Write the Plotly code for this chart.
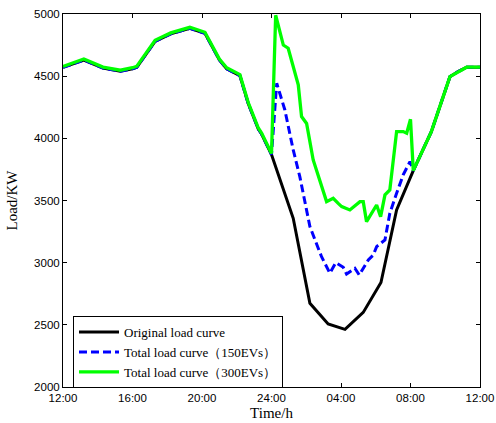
import plotly.graph_objects as go

# hours after 12:00
base_h = [0, 1.2, 2.3, 3.3, 4.0, 4.25, 5.3, 6.2, 7.3, 8.17, 9.0, 9.42, 10.18, 10.66, 11.24, 11.43, 12.0]
base_v = [4570, 4630, 4565, 4540, 4560, 4572, 4780, 4840, 4885, 4845, 4630, 4560, 4505, 4280, 4075, 4035, 3870]

orig_h = [13.25, 14.21, 15.26, 16.23, 17.28, 18.3, 19.2, 20.16, 21.2, 22.27, 22.74, 23.23, 24.0]
orig_v = [3357, 2673, 2507, 2464, 2600, 2840, 3424, 3740, 4054, 4496, 4537, 4572, 4572]

ev150_h = [12.3, 12.77, 13.25, 13.63, 14.02, 14.21, 14.88, 15.36, 15.7, 16.13, 16.32, 16.8, 17.05,
           17.57, 17.86, 18.05, 18.53, 18.81, 19.2, 19.58, 19.97, 20.16]
ev150_v = [4443, 4228, 3907, 3692, 3424, 3290, 3048, 2915, 3000, 2963, 2909, 2955, 2901,
           3022, 3062, 3129, 3183, 3397, 3558, 3706, 3813, 3740]

ev300_h = [12.24, 12.68, 12.96, 13.54, 13.73, 14.02, 14.4, 15.17, 15.55, 15.84, 16.04, 16.51, 17.09,
           17.28, 17.47, 18.05, 18.28, 18.53, 18.81, 19.2, 19.58, 19.78, 20.0, 20.16]
ev300_v = [4990, 4750, 4725, 4430, 4175, 4120, 3826, 3491, 3518, 3477, 3451, 3424, 3491,
           3491, 3330, 3464, 3370, 3545, 3585, 4054, 4054, 4041, 4153, 3740]

tick_vals = [0, 4, 8, 12, 16, 20, 24]
tick_text = ["12:00", "16:00", "20:00", "24:00", "04:00", "08:00", "12:00"]

tail_h = orig_h[orig_h.index(20.16) + 1:]
tail_v = orig_v[orig_h.index(20.16) + 1:]

x_orig = base_h + orig_h
y_orig = base_v + orig_v
x_150 = base_h + ev150_h + tail_h
y_150 = base_v + ev150_v + tail_v
x_300 = base_h + ev300_h + tail_h
y_300 = [v + 8 for v in base_v] + ev300_v + tail_v

fig = go.Figure()
fig.add_trace(go.Scatter(x=x_orig, y=y_orig, mode="lines", name="Original load curve",
                         line=dict(color="black", width=3)))
fig.add_trace(go.Scatter(x=x_150, y=y_150, mode="lines", name="Total load curve（150EVs）",
                         line=dict(color="#0000ff", width=3, dash="8px,4px")))
fig.add_trace(go.Scatter(x=x_300, y=y_300, mode="lines", name="Total load curve（300EVs）",
                         line=dict(color="#00ff00", width=3.3)))

axis_common = dict(showgrid=False, zeroline=False, showline=True, linecolor="black", linewidth=1,
                   mirror="ticks", ticks="inside", ticklen=4, tickcolor="black", automargin=False,
                   tickfont=dict(family="Liberation Sans, Arial", size=11.5, color="black"))

fig.update_layout(
    width=496, height=423,
    margin=dict(l=63, r=16, t=14, b=36),
    plot_bgcolor="white", paper_bgcolor="white",
    showlegend=True,
    legend=dict(x=0.024, y=0.19, xanchor="left", yanchor="top",
                bgcolor="white", bordercolor="black", borderwidth=1,
                font=dict(family="Liberation Serif, Times New Roman", size=13, color="black"),
                tracegroupgap=0, itemwidth=40),
    xaxis=dict(range=[0, 24], tickvals=tick_vals, ticktext=tick_text,
               title=dict(text="Time/h", standoff=4,
                          font=dict(family="Liberation Serif, Times New Roman", size=15, color="black")),
               **axis_common),
    yaxis=dict(range=[2000, 5000], tickvals=[2000, 2500, 3000, 3500, 4000, 4500, 5000],
               title=dict(text="Load/KW", standoff=12,
                          font=dict(family="Liberation Serif, Times New Roman", size=15, color="black")),
               **axis_common),
)

fig.write_html("out.html", config={"displayModeBar": False},
               post_script="document.body.style.margin='0px';document.body.style.overflow='hidden';")
